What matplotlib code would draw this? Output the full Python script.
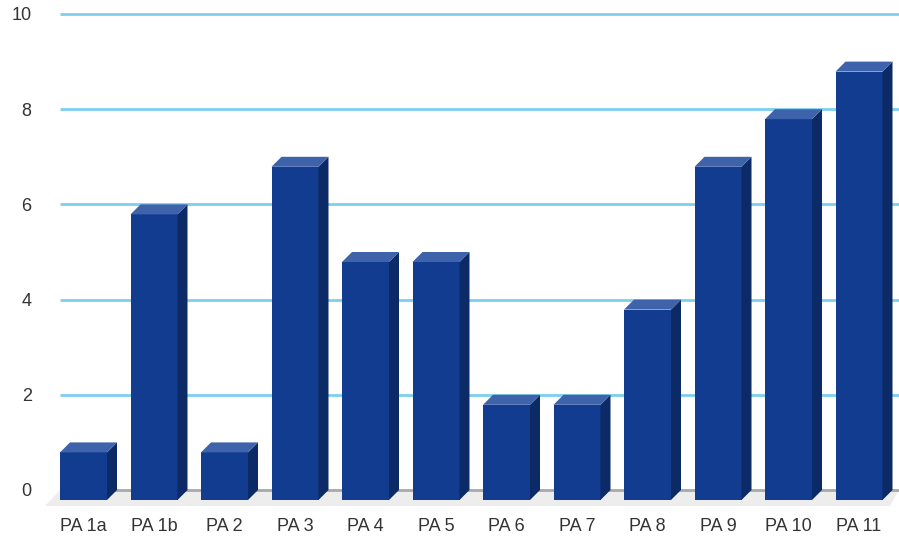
import matplotlib
matplotlib.use("Agg")
import matplotlib.pyplot as plt
from matplotlib.patches import Polygon
import numpy as np

categories = ["PA 1a", "PA 1b", "PA 2", "PA 3", "PA 4", "PA 5", "PA 6", "PA 7",
              "PA 8", "PA 9", "PA 10", "PA 11"]
values = [1, 6, 1, 7, 5, 5, 2, 2, 4, 7, 8, 9]
yticks = [0, 2, 4, 6, 8, 10]

FRONT = "#113C8F"
TOP = "#3E63AB"
SIDE = "#0B2A66"
GRID = "#7CCFF0"

W, H = 899, 541
fig = plt.figure(figsize=(W / 100, H / 100), dpi=100)
ax_l, ax_r, ax_b, ax_t = 40, 899, 512, 5
ax = fig.add_axes([ax_l / W, 1 - ax_b / H, (ax_r - ax_l) / W, (ax_b - ax_t) / H])

pxx = 70.5
pxy = 47.6
x0px = 83.5
y0px = 490
ax.set_xlim((ax_l - x0px) / pxx, (ax_r - x0px) / pxx)
ax.set_ylim(-(ax_b - y0px) / pxy, (y0px - ax_t) / pxy)

w = 47 / pxx
dx = 10 / pxx
dy = 10 / pxy
x = np.arange(len(categories))
vals = np.array(values, dtype=float)

grid_left = (60 - x0px) / pxx
xr = ax.get_xlim()[1]

floor = Polygon([[grid_left, 0], [xr, 0], [xr - dx * 0.9, -dy * 1.6],
                 [grid_left - 1.5 * dx, -dy * 1.6]], closed=True,
                facecolor="#EDEDED", edgecolor="none", zorder=1)
ax.add_patch(floor)
ax.hlines(0, grid_left, xr, color="#A8A8A8", lw=2, zorder=1.5)
for t in yticks[1:]:
    ax.hlines(t, grid_left, xr, color=GRID, lw=2, zorder=1.5)

# front faces: from -dy up to value - dy
ax.bar(x, vals, bottom=-dy, width=w, color=FRONT, edgecolor="none", zorder=3)
for xi, v in zip(x, vals):
    l = xi - w / 2
    r = xi + w / 2
    ftop = v - dy
    side = Polygon([[r, -dy], [r + dx, 0], [r + dx, v], [r, ftop]], closed=True,
                   facecolor=SIDE, edgecolor="none", zorder=3)
    top = Polygon([[l, ftop], [r, ftop], [r + dx, v], [l + dx, v]], closed=True,
                  facecolor=TOP, edgecolor="none", zorder=3)
    ax.add_patch(side)
    ax.add_patch(top)

ax.set_yticks(yticks)
ax.set_yticklabels([str(t) for t in yticks])
ax.set_xticks(x)
ax.set_xticklabels(categories)
ax.tick_params(axis="both", length=0, labelsize=13, colors="#333333")
ax.tick_params(axis="y", pad=6)
ax.tick_params(axis="x", pad=4)
for lab in ax.get_xticklabels() + ax.get_yticklabels():
    lab.set_fontfamily(["Liberation Sans", "DejaVu Sans"])
for s in ax.spines.values():
    s.set_visible(False)
ax.set_facecolor("white")

fig.savefig("out.png", dpi=100, facecolor="white")
